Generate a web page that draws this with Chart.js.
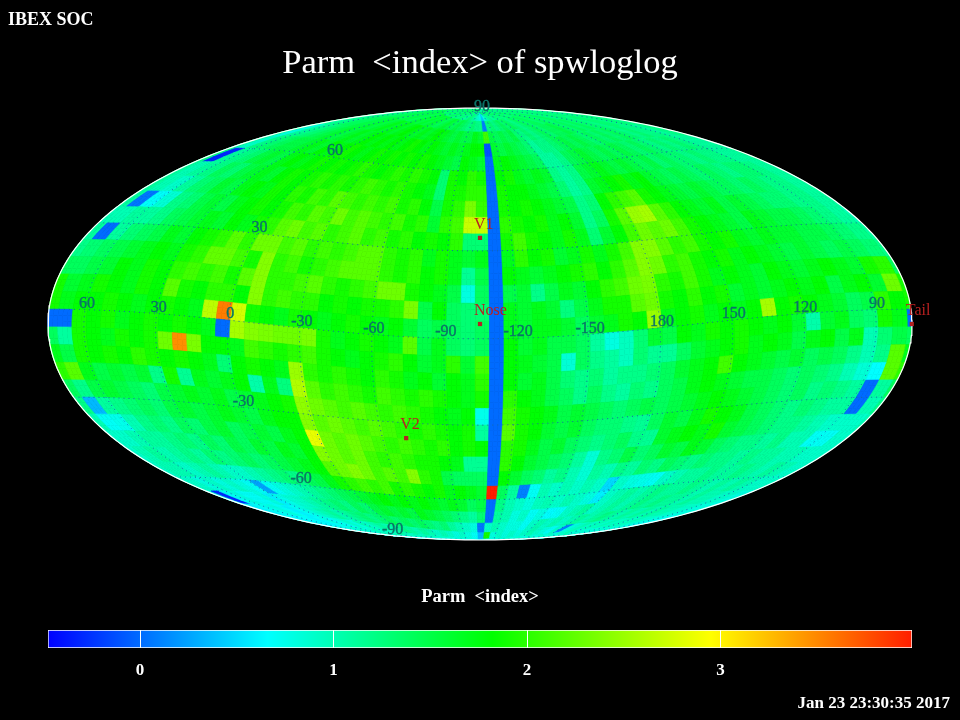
<!DOCTYPE html>
<html>
<head>
<meta charset="utf-8">
<title>Parm &lt;index&gt; of spwloglog</title>
<script src="https://cdn.jsdelivr.net/npm/chart.js@4"></script>
<style>
  html, body { margin: 0; background: #000; }
  #page { position: relative; width: 960px; height: 720px; overflow: hidden; background: #000; }
  canvas { position: absolute; left: 0; }
  .txt { position: absolute; color: #fff; font-family: "Liberation Serif", serif; white-space: pre; }
</style>
</head>
<body>
<div id="page">
  <canvas id="sky" width="960" height="720" style="top:0"></canvas>
  <canvas id="bar" width="960" height="78" style="top:610px"></canvas>
  <div class="txt" style="left:8px;top:9px;font-size:18px;font-weight:bold">IBEX SOC</div>
  <div class="txt" style="left:0;width:960px;top:42px;text-align:center;font-size:34.5px">Parm  &lt;index&gt; of spwloglog</div>
  <div class="txt" style="left:0;width:960px;top:586px;text-align:center;font-size:18.5px;font-weight:bold">Parm  &lt;index&gt;</div>
  <div class="txt" style="right:10px;top:693px;font-size:17px;font-weight:bold">Jan 23 23:30:35 2017</div>
</div>
<script>
// index values per 6 degree latitude band, north to south, 60 longitude bins left to right
const latN87 = [1.2,1.2,1.3,1.3,1.2,1.3,1.4,1.3,1.3,1.2, 1.3,1.4,1.3,1.2,1.3,1.3,1.4,1.3,1.2,1.3, 1.2,1.3,1.2,1.1,1.2,1.3,1.2,1.1,1.0,0.9, 0.8,0.4,0.8,1.0,1.1,1.2,1.1,1.2,1.3,1.2, 1.3,1.2,1.3,1.4,1.3,1.2,1.3,1.3,1.4,1.3, 1.2,1.3,1.3,1.2,1.3,1.2,1.3,1.2,1.2,1.1];
const latN81 = [1.2,1.0,1.2,1.3,1.3,1.4,1.4,1.5,1.4,1.5, 1.5,1.4,1.5,1.6,1.5,1.6,1.5,1.6,1.5,1.4, 1.5,1.6,1.5,1.4,1.5,1.4,1.3,1.2,1.3,1.2, 1.2,0.1,1.2,1.3,1.2,1.3,1.4,1.3,1.4,1.3, 1.2,1.3,1.4,1.3,1.4,1.4,1.3,1.4,1.3,1.3, 1.4,1.3,1.2,1.3,1.3,1.2,1.3,1.2,1.2,1.2];
const latN75 = [1.2,1.1,1.2,1.3,1.4,1.4,1.5,1.5,1.6,1.5, 1.6,1.7,1.6,1.7,1.6,1.7,1.8,1.7,1.6,1.7, 1.6,1.7,1.8,1.7,1.6,1.5,1.6,1.5,1.5,1.7, 1.6,2.1,1.5,1.4,1.5,1.4,1.5,1.3,1.2,1.3, 1.2,1.3,1.4,1.3,1.4,1.4,1.5,1.4,1.3,1.4, 1.3,1.4,1.3,1.3,1.2,1.3,1.3,1.2,1.3,1.2];
const latN69 = [1.2,0.8,1.1,1.2,1.3,1.4,1.5,1.6,1.5,1.6, 1.7,1.6,1.7,1.8,1.7,1.8,1.7,1.8,1.7,1.8, 1.9,1.8,1.7,1.8,1.7,1.6,1.7,1.6,1.7,1.8, 1.8,-0.1,1.6,1.5,1.6,1.5,1.4,1.3,1.1,1.2, 1.2,1.3,1.4,1.5,1.4,1.5,1.4,1.3,1.4,1.3, 1.4,1.3,1.4,1.3,1.2,1.3,1.2,1.2,1.1,1.2];
const latN63 = [1.1,0.9,1.2,1.3,1.4,1.5,1.5,1.6,1.7,1.6, 1.8,1.7,1.8,1.9,1.8,1.7,1.8,1.9,1.8,1.9, 1.8,1.9,1.8,1.9,1.8,1.7,1.6,1.5,1.8,1.7, 1.6,0.0,1.7,1.8,1.7,1.6,1.5,1.4,1.1,1.1, 1.2,1.4,1.5,1.6,1.5,1.4,1.5,1.4,1.5,1.4, 1.3,1.4,1.3,1.2,1.3,1.2,1.3,1.2,1.1,1.1];
const latN57 = [1.2,-0.3,1.1,1.2,1.3,1.5,1.6,1.5,1.7,1.8, 1.7,1.8,1.9,1.8,1.9,1.8,1.9,2.0,1.9,1.8, 1.9,2.0,1.9,2.0,1.9,1.8,1.3,1.9,1.8,2.0, 1.9,0.0,1.8,1.9,1.7,1.6,1.7,1.6,1.2,1.1, 1.2,1.5,1.6,1.7,1.6,1.5,1.6,1.5,1.4,1.5, 1.3,1.4,1.3,1.3,1.2,1.3,1.2,1.2,1.1,1.1];
const latN51 = [1.1,1.0,1.1,1.2,1.4,1.3,1.5,1.6,1.7,1.6, 1.8,1.9,1.8,1.9,2.0,1.9,2.0,1.9,2.0,2.1, 2.0,1.9,2.0,1.9,1.8,1.7,1.3,1.9,1.9,2.0, 2.0,0.0,1.9,1.8,1.8,1.7,1.6,1.5,1.3,1.1, 1.2,1.6,1.7,1.8,1.9,1.7,1.8,1.6,1.5,1.4, 1.5,1.4,1.3,1.4,1.3,1.2,1.3,1.3,1.2,1.1];
const latN45 = [1.1,1.0,0.9,1.1,1.3,1.4,1.6,1.5,1.7,1.8, 1.7,1.9,1.8,2.0,1.9,2.1,2.0,2.2,2.1,2.0, 2.1,2.0,2.1,1.9,2.0,1.8,1.5,1.9,2.0,2.35, 2.05,0.0,1.9,1.8,1.9,1.8,1.7,1.6,1.5,1.2, 1.3,1.8,2.0,2.1,2.2,1.9,1.8,1.7,1.6,1.5, 1.6,1.5,1.4,1.4,1.3,1.4,1.3,1.2,1.2,1.1];
const latN39 = [1.1,0.05,0.68,0.85,1.2,1.3,1.5,1.6,1.5,1.7, 1.8,1.9,1.8,1.9,2.1,2.0,2.2,2.1,2.3,2.1, 2.2,2.1,2.0,2.1,1.9,2.0,1.6,2.0,2.1,2.7, 2.7,0.0,2.0,1.9,1.8,1.9,1.7,1.8,1.6,1.2, 1.4,1.9,2.2,2.5,2.55,2.2,2.0,1.8,1.7,1.6, 1.7,1.5,1.6,1.5,1.4,1.3,1.3,1.2,1.2,1.1];
const latN33 = [1.0,1.0,1.1,1.1,1.2,1.4,1.5,1.6,1.7,1.6, 1.8,1.7,1.9,2.0,2.2,2.3,2.1,2.2,2.0,2.1, 2.2,2.0,2.1,1.9,2.0,1.8,1.9,1.8,2.0,1.3, 1.3,0.0,1.9,2.1,1.9,1.8,1.7,1.9,1.7,1.3, 1.6,1.8,2.1,2.3,2.2,2.3,2.1,1.9,1.8,1.7, 1.6,1.5,1.7,1.6,1.5,1.5,1.4,1.3,1.2,1.1];
const latN27 = [1.1,0.0,1.1,1.3,1.4,1.5,1.7,1.6,1.8,1.9, 2.0,2.2,2.0,2.3,2.3,2.1,2.2,2.0,2.1,2.0, 2.1,2.2,2.2,2.0,1.9,2.0,1.7,1.9,1.7,1.6, 1.7,0.0,1.7,2.0,1.8,1.9,1.6,1.7,1.9,1.7, 1.9,2.1,2.4,2.4,2.2,2.0,2.1,1.9,1.8,1.9, 1.7,1.6,1.7,1.6,1.6,1.5,1.5,1.4,1.3,1.2];
const latN21 = [1.2,1.3,1.4,1.5,1.6,1.7,1.8,1.7,1.9,2.0, 2.25,2.25,2.1,1.9,2.4,2.0,2.1,1.9,2.0,2.1, 2.2,2.2,2.2,2.0,1.9,2.0,1.8,1.9,1.7,1.15, 1.5,0.0,1.8,1.7,1.6,1.7,1.8,1.9,2.0,1.8, 2.0,2.2,2.4,2.3,2.0,2.1,1.9,1.8,1.9,1.7, 1.8,1.7,1.6,1.5,1.6,1.5,1.4,1.5,1.4,1.3];
const latN15 = [1.4,1.4,1.5,1.6,1.8,1.7,1.9,1.8,2.0,2.1, 2.0,2.1,1.9,2.2,2.4,2.0,2.0,2.1,2.2,2.0, 1.9,2.0,2.1,2.3,2.3,1.9,1.8,1.7,1.5,0.8, 1.4,0.0,1.5,1.6,1.2,1.5,1.7,1.6,1.8,2.0, 2.1,2.3,2.35,2.0,1.9,2.1,1.9,1.7,1.8,1.7, 1.6,1.8,1.7,1.6,1.7,1.8,1.7,1.6,1.9,2.0];
const latN09 = [1.9,1.6,1.7,1.9,1.8,1.7,1.9,1.8,2.2,1.9, 1.8,2.0,2.0,1.8,2.4,2.0,2.1,2.0,2.0,1.8, 1.9,1.8,1.9,1.9,2.0,2.35,1.5,1.8,1.4,1.3, 1.3,0.0,1.7,1.6,1.7,1.6,1.25,1.5,1.7,1.9, 1.9,2.2,2.3,1.9,1.8,2.0,1.8,1.9,1.6,1.7, 1.6,1.7,1.8,1.7,1.8,1.5,1.7,1.8,1.6,2.3];
const latN03 = [1.9,1.7,1.8,1.8,1.9,1.8,1.7,1.8,1.9,1.8, 1.7,2.65,3.55,2.75,1.9,1.8,1.7,1.9,1.8,1.7, 1.8,1.9,1.8,1.7,1.8,1.6,1.4,1.5,1.4,1.3, 1.4,0.0,1.7,1.6,1.7,1.7,1.6,1.4,1.6,1.7, 1.9,1.8,2.5,1.7,1.8,1.9,1.7,1.8,1.7,1.8, 2.55,1.8,1.9,1.8,1.7,1.6,1.4,1.5,2.0,1.8];
const latS03 = [0.0,0.0,1.9,1.8,1.9,1.7,1.8,1.9,1.8,1.9, 1.8,1.7,0.0,2.55,2.4,2.35,2.3,2.3,2.35,1.9, 1.7,1.8,1.9,1.8,1.7,2.2,1.5,1.7,1.4,1.3, 1.4,0.0,1.8,1.6,1.7,1.5,1.5,1.4,1.1,0.8, 0.95,1.3,1.6,1.5,1.8,1.7,1.9,1.8,1.9,1.8, 1.7,1.8,1.6,1.05,1.6,1.7,1.4,1.3,1.9,1.7];
const latS09 = [1.4,1.1,1.9,1.8,1.7,1.9,1.8,1.9,2.3,3.47, 2.35,1.8,1.8,1.7,2.1,2.0,1.9,2.0,2.1,1.9, 1.8,1.7,1.8,1.9,2.0,1.8,1.6,1.7,2.0,1.6, 2.1,0.0,1.8,1.7,1.6,1.5,0.85,1.4,1.2,1.1, 0.95,1.3,1.15,1.15,1.4,1.6,1.7,1.8,1.9,1.7, 1.8,1.7,1.5,1.7,1.8,1.5,1.7,1.0,1.3,1.5];
const latS15 = [1.7,1.5,1.9,1.8,1.9,1.8,2.0,1.9,1.8,1.9, 1.8,1.7,1.3,1.8,1.9,1.8,1.7,2.5,2.0,1.9, 2.0,1.9,1.8,2.0,1.9,1.7,1.8,1.6,1.8,1.7, 2.0,0.0,1.8,1.6,1.7,1.5,1.3,1.2,1.3,1.1, 1.2,1.2,1.3,1.4,1.6,1.7,1.8,2.1,1.8,1.7, 1.6,1.5,1.6,1.4,1.5,1.4,1.2,1.0,1.2,2.2];
const latS21 = [2.0,2.2,1.7,1.5,1.6,1.5,1.6,1.2,1.9,1.15, 1.7,1.6,1.7,1.8,1.05,1.7,1.25,2.6,2.2,2.0, 2.1,2.0,1.9,2.1,2.0,1.9,2.0,1.9,1.8,1.7, 1.9,0.0,2.0,1.8,1.7,1.5,1.4,1.2,1.4,1.2, 1.1,1.3,1.2,1.4,1.5,1.7,1.8,1.7,1.6,1.5, 1.5,1.4,1.3,1.4,1.3,1.2,1.0,0.85,0.66,2.2];
const latS27 = [1.4,1.2,1.5,1.6,1.5,1.4,1.3,1.5,1.6,1.7, 1.6,1.7,1.5,1.6,1.7,1.8,1.9,2.45,2.3,2.2, 2.1,2.2,2.1,2.0,2.1,2.0,1.9,1.8,1.7,1.8, 0.75,0.0,2.1,1.9,1.8,1.7,1.5,1.6,1.5,1.4, 1.3,1.4,1.5,1.4,1.5,1.6,1.7,1.8,1.7,1.6, 1.5,1.4,1.3,1.4,1.2,1.3,1.2,1.1,0.0,1.1];
const latS33 = [1.2,0.35,1.1,1.2,1.3,1.4,1.3,1.5,1.6,1.5, 1.6,1.7,1.6,1.5,1.7,1.8,1.8,2.4,2.2,2.3, 2.2,2.1,2.2,2.1,2.0,1.9,2.0,1.9,1.8,1.9, 1.1,0.0,2.2,1.9,1.8,1.6,1.5,1.6,1.4,1.3, 1.3,1.2,1.15,1.4,1.6,1.5,1.7,1.9,1.8,1.7, 1.5,1.4,1.3,1.2,1.3,1.2,1.1,1.1,0.0,1.0];
const latS39 = [1.0,0.7,0.75,1.0,1.2,1.3,1.2,1.4,1.3,1.5, 1.6,1.4,1.5,1.6,1.5,1.7,1.8,2.85,2.3,2.2, 2.3,2.2,2.1,2.0,2.1,2.0,1.9,2.0,1.8,1.9, 1.8,0.0,2.0,1.9,1.7,1.5,1.6,1.4,1.3,1.2, 1.3,1.4,1.2,1.15,1.6,1.7,1.8,1.7,1.9,1.6, 1.5,1.4,1.3,1.2,1.2,1.1,1.0,0.9,0.9,0.9];
const latS45 = [0.9,0.9,1.0,1.1,1.1,1.2,1.3,1.2,1.4,1.3, 1.5,1.4,1.6,1.5,1.7,1.6,1.8,2.4,2.3,2.2, 2.3,2.1,2.0,2.1,2.0,1.9,1.9,1.8,1.7,1.15, 1.15,0.0,2.0,1.8,1.6,1.5,1.4,1.3,1.1,0.85, 1.2,1.3,1.5,1.3,1.4,1.6,1.5,1.7,1.6,1.4, 1.3,1.2,1.2,1.1,1.2,1.0,1.0,0.7,0.7,0.9];
const latS51 = [0.9,1.0,1.1,1.0,1.1,1.2,1.1,1.3,1.2,1.3, 1.4,1.3,1.4,1.5,1.6,1.7,1.8,2.2,2.3,2.4, 2.3,2.1,2.2,2.1,2.4,2.0,1.9,1.5,1.4,1.4, 1.4,0.0,1.8,1.6,1.4,1.3,1.1,1.2,1.0,0.85, 1.1,1.0,1.2,1.1,1.3,1.2,1.4,1.3,1.2,1.3, 1.2,1.2,1.1,1.2,1.1,1.1,1.0,1.0,0.9,0.9];
const latS57 = [0.9,1.0,1.0,0.9,1.0,1.1,1.0,0.9,0.9,1.0, 1.1,1.2,1.3,1.2,1.4,1.5,1.7,1.9,2.0,2.1, 2.0,2.1,1.9,2.0,1.9,1.8,1.9,1.7,1.8,1.7, 1.6,3.99,1.4,1.1,0.1,0.7,1.0,0.9,1.0,0.9, 1.0,0.9,0.5,0.9,0.8,0.75,0.7,0.9,1.0,1.1, 1.1,1.2,1.1,1.1,1.2,1.1,1.0,1.1,1.0,0.9];
const latS63 = [0.9,0.9,0.8,0.9,0.8,0.9,0.8,0.7,0.25,0.7, 0.8,0.9,1.0,1.1,1.2,1.3,1.4,1.5,1.6,1.7, 1.8,1.7,1.8,1.7,1.8,1.7,1.6,1.7,1.6,1.4, 1.5,0.0,1.2,1.0,0.9,0.8,0.95,1.0,0.9,1.0, 0.9,0.8,0.6,0.9,1.0,1.1,1.0,1.1,1.2,1.1, 1.1,1.2,1.1,1.0,1.1,1.0,1.1,1.0,0.9,0.9];
const latS69 = [0.8,-0.3,0.7,0.8,0.7,0.7,0.8,0.6,0.75,0.85, 0.9,1.0,1.1,1.2,1.3,1.2,1.4,1.3,1.5,1.6, 1.5,1.6,1.5,1.7,1.6,1.5,1.4,1.3,1.2,1.1, 1.3,0.0,1.1,1.0,0.8,0.9,0.7,0.8,0.65,0.7, 0.9,1.0,1.1,0.9,1.0,1.1,1.0,1.1,1.2,1.1, 1.2,1.1,1.1,1.0,1.1,1.0,1.0,0.9,0.9,0.8];
const latS75 = [0.7,0.6,0.7,0.75,0.8,0.7,0.6,0.7,0.8,0.9, 1.0,1.1,1.0,1.1,1.2,1.3,1.2,1.3,1.4,1.3, 1.4,1.3,1.4,1.3,1.2,1.3,1.1,1.0,0.9,0.8, 0.05,0.9,1.0,0.9,0.8,0.8,0.7,0.9,1.0,0.9, 1.0,0.9,1.0,1.1,1.0,1.1,1.2,1.1,1.0,1.1, 1.0,1.1,1.0,1.1,1.0,1.0,0.9,0.9,0.8,0.8];
const latS81 = [0.7,0.7,0.6,0.65,0.7,0.6,0.7,0.8,0.7,0.8, 0.9,0.8,1.0,0.9,1.0,1.1,1.0,1.1,1.2,1.1, 1.0,1.1,1.0,0.9,1.0,0.9,0.8,0.9,0.8,0.7, 0.35,1.9,0.8,0.9,0.8,0.9,0.8,0.9,1.0,0.9, 0.8,0.7,0.9,0.1,0.8,0.9,1.0,0.9,1.0,0.9, 1.0,0.9,1.0,0.9,1.0,0.9,0.9,0.8,0.8,0.7];
const latS87 = [0.8,0.8,0.7,0.8,0.7,0.8,0.9,0.8,0.9,0.8, 0.9,1.0,0.9,1.0,0.9,1.0,1.1,1.0,0.9,1.0, 0.9,1.0,0.9,1.0,0.9,0.9,0.8,0.9,0.8,0.8, 0.7,0.7,0.8,0.8,0.9,0.8,0.9,0.8,0.9,0.8, 0.9,0.8,0.9,0.8,0.9,0.9,1.0,0.9,0.8,0.9, 0.8,0.9,0.8,0.8,0.9,0.8,0.9,0.8,0.8,0.8];
const latBands = [latN87,latN81,latN75,latN69,latN63,latN57,latN51,latN45,latN39,latN33,latN27,latN21,latN15,latN09,latN03,
                  latS03,latS09,latS15,latS21,latS27,latS33,latS39,latS45,latS51,latS57,latS63,latS69,latS75,latS81,latS87];

const lonTickValues = [60,30,0,-30,-60,-90,-120,-150,180,150,120,90];
const latTickValues = [90,60,30,-30,-60,-90];
const gridLons = [0,30,60,90,120,150,180,210,240,270,300,330];
const gridLats = [-60,-30,0,30,60];

const markerNames = ["V1","Nose","V2","Tail"];
const markerLon = [255,255,289,75.1];
const markerLat = [34.6,5,-35.7,-5];

const colorValues = [-0.476,0.66,1.82,2.95,3.99];
const colorStops = [[0,0,255],[0,255,255],[0,255,0],[255,255,0],[255,30,0]];
const barTicks = [0,1,2,3];

// map centre (the nose direction), ecliptic degrees
const centerLon = 255, centerLat = 5;
const D = Math.PI / 180;
const cosC = Math.cos(centerLat * D), sinC = Math.sin(centerLat * D);

function wrap180(a) { return ((a + 180) % 360 + 360) % 360 - 180; }

// offset = degrees right of the centre meridian; returns rotated lon/lat in degrees
function rotate(offset, lat) {
  const X = Math.cos(lat * D) * Math.cos(offset * D);
  const Y = Math.cos(lat * D) * Math.sin(offset * D);
  const Z = Math.sin(lat * D);
  const x2 = X * cosC + Z * sinC;
  const z2 = -X * sinC + Z * cosC;
  return [Math.atan2(Y, x2) / D, Math.asin(Math.max(-1, Math.min(1, z2))) / D];
}

// Mollweide: axis units are x in -180..180, y in -90..90
function mollweide(lam, phi) {
  const p = phi * D;
  let t = p;
  for (let i = 0; i < 30; i++) {
    const d = 2 * t + Math.sin(2 * t) - Math.PI * Math.sin(p);
    const dd = 2 + 2 * Math.cos(2 * t);
    if (dd < 1e-6) break;
    t -= d / dd;
  }
  return { x: lam * Math.cos(t), y: 90 * Math.sin(t) };
}

function project(offset, lat) {
  const r = rotate(offset, lat);
  return mollweide(r[0], r[1]);
}

function colorFor(v) {
  let i = 0;
  while (i < colorValues.length - 2 && v > colorValues[i + 1]) i++;
  let f = (v - colorValues[i]) / (colorValues[i + 1] - colorValues[i]);
  f = Math.max(0, Math.min(1, f));
  const a = colorStops[i], b = colorStops[i + 1];
  return "rgb(" + [0, 1, 2].map(c => Math.round(a[c] + (b[c] - a[c]) * f)).join(",") + ")";
}

function tracePoly(chart, verts) {
  const ctx = chart.ctx, sx = chart.scales.x, sy = chart.scales.y;
  ctx.beginPath();
  verts.forEach((v, i) => {
    const m = mollweide(v[0], v[1]);
    const px = sx.getPixelForValue(m.x), py = sy.getPixelForValue(m.y);
    if (i === 0) ctx.moveTo(px, py); else ctx.lineTo(px, py);
  });
  ctx.closePath();
  ctx.fill();
  ctx.stroke();
}

// the sky cells, drawn under the grid through the chart's scales
const cellPlugin = {
  id: "skyCells",
  beforeDatasetsDraw(chart) {
    const ctx = chart.ctx;
    const nLat = 3, nLon = 3;
    ctx.save();
    ctx.lineWidth = 0.7;
    latBands.forEach((band, r) => {
      const latTop = 90 - 6 * r;
      band.forEach((val, k) => {
        const lo = -182 + 6 * k;
        const col = colorFor(val);
        ctx.fillStyle = col;
        ctx.strokeStyle = col;
        for (let a = 0; a < nLat; a++) {
          const la1 = latTop - 6 * a / nLat, la2 = latTop - 6 * (a + 1) / nLat;
          for (let b = 0; b < nLon; b++) {
            const o1 = lo + 6 * b / nLon, o2 = lo + 6 * (b + 1) / nLon;
            const verts = [rotate(o1, la1), rotate(o2, la1), rotate(o2, la2), rotate(o1, la2)];
            const lams = verts.map(v => v[0]);
            if (Math.max(...lams) - Math.min(...lams) > 180) {
              tracePoly(chart, verts.map(v => [v[0] < 0 ? 180 : v[0], v[1]]));
              tracePoly(chart, verts.map(v => [v[0] > 0 ? -180 : v[0], v[1]]));
            } else {
              tracePoly(chart, verts);
            }
          }
        }
      });
    });
    ctx.restore();
  },
  afterDatasetsDraw(chart) {
    const ctx = chart.ctx, sx = chart.scales.x, sy = chart.scales.y;
    ctx.save();
    ctx.font = "16px 'Liberation Serif', serif";
    ctx.textBaseline = "middle";
    ctx.textAlign = "center";
    ctx.fillStyle = "#0a7468";
    ctx.strokeStyle = "#0a7468";
    ctx.lineWidth = 0.4;
    const tickLabel = (text, m) => {
      const px = sx.getPixelForValue(m.x) + 2, py = sy.getPixelForValue(m.y) - 6;
      ctx.fillText(text, px, py);
      ctx.strokeText(text, px, py);
    };
    lonTickValues.forEach(lon => tickLabel(String(lon), project(wrap180(centerLon - lon), 0)));
    latTickValues.forEach(lat => tickLabel(String(lat), project(wrap180(centerLon - 0), lat)));
    ctx.textAlign = "left";
    ctx.fillStyle = "#b82020";
    markerNames.forEach((name, i) => {
      const m = project(wrap180(centerLon - markerLon[i]), markerLat[i]);
      ctx.fillText(name, sx.getPixelForValue(m.x) - 6, sy.getPixelForValue(m.y) - 13);
    });
    ctx.restore();
  }
};

function gridLine(points) {
  const out = [];
  let last = null;
  points.forEach(p => {
    const r = rotate(p[0], p[1]);
    if (last !== null && Math.abs(r[0] - last) > 90) out.push({ x: NaN, y: NaN });
    out.push(mollweide(r[0], r[1]));
    last = r[0];
  });
  return out;
}

const gridSets = [];
function addGrid(points) {
  gridSets.push({
    data: gridLine(points), showLine: true, pointRadius: 0, borderWidth: 1,
    borderColor: "#1668a8", borderDash: [1, 4], clip: false, order: 2
  });
}
gridLons.forEach(lon => {
  const pts = [];
  for (let lat = -90; lat <= 90; lat += 1) pts.push([wrap180(centerLon - lon), lat]);
  addGrid(pts);
});
gridLats.forEach(lat => {
  const pts = [];
  for (let o = -180; o <= 180; o += 1) pts.push([o, lat]);
  addGrid(pts);
});

const outline = [];
for (let a = 0; a <= 360; a += 1) outline.push({ x: 180 * Math.cos(a * D), y: 90 * Math.sin(a * D) });

new Chart(document.getElementById("sky"), {
  type: "scatter",
  data: {
    datasets: [
      ...gridSets,
      { data: outline, showLine: true, pointRadius: 0, borderWidth: 1.2, borderColor: "#ffffff", clip: false, order: 1 },
      {
        data: markerNames.map((n, i) => project(wrap180(centerLon - markerLon[i]), markerLat[i])),
        pointStyle: "rect", pointRadius: 3, pointBackgroundColor: "#b22222", pointBorderWidth: 0, clip: false, order: 0
      }
    ]
  },
  options: {
    responsive: false,
    animation: false,
    devicePixelRatio: 1,
    layout: { padding: { left: 48, right: 48, top: 108, bottom: 180 } },
    plugins: { legend: { display: false }, tooltip: { enabled: false } },
    scales: {
      x: { type: "linear", min: -180, max: 180, display: false },
      y: { type: "linear", min: -90, max: 90, display: false }
    }
  },
  plugins: [cellPlugin]
});

// colour bar
const barMin = colorValues[0], barMax = colorValues[colorValues.length - 1];
new Chart(document.getElementById("bar"), {
  type: "bar",
  data: {
    labels: ["index"],
    datasets: [{
      data: [[barMin, barMax]],
      barPercentage: 1,
      categoryPercentage: 1,
      borderColor: "#ffffff",
      borderWidth: 1,
      borderSkipped: false,
      backgroundColor(c) {
        const a = c.chart.chartArea;
        if (!a) return "#000";
        const g = c.chart.ctx.createLinearGradient(a.left, 0, a.right, 0);
        colorValues.forEach((v, i) => g.addColorStop((v - barMin) / (barMax - barMin), "rgb(" + colorStops[i].join(",") + ")"));
        return g;
      }
    }]
  },
  options: {
    indexAxis: "y",
    responsive: false,
    animation: false,
    devicePixelRatio: 1,
    layout: { padding: { left: 48, right: 48, top: 20, bottom: 0 } },
    plugins: { legend: { display: false }, tooltip: { enabled: false } },
    scales: {
      y: { display: false },
      x: {
        type: "linear", min: barMin, max: barMax,
        afterFit(s) { s.height = 40; },
        afterBuildTicks(s) { s.ticks = barTicks.map(v => ({ value: v })); },
        grid: { color: "#ffffff", lineWidth: 1, drawTicks: false, z: 1 },
        border: { display: false },
        ticks: {
          color: "#ffffff", padding: 12, maxRotation: 0,
          font: { family: "'Liberation Serif', serif", size: 17, weight: "bold" }
        }
      }
    }
  }
});
</script>
</body>
</html>
